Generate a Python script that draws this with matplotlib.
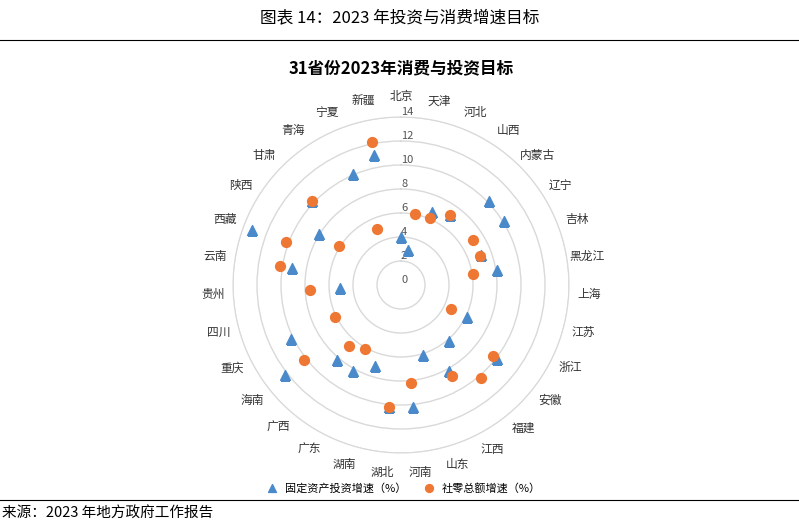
import numpy as np
import matplotlib.pyplot as plt

plt.rcParams['font.family'] = ['Noto Sans CJK SC', 'DejaVu Sans']

provinces = ['北京', '天津', '河北', '山西', '内蒙古', '辽宁', '吉林', '黑龙江', '上海', '江苏',
             '浙江', '安徽', '福建', '江西', '山东', '河南', '湖北', '湖南', '广东', '广西',
             '海南', '重庆', '四川', '贵州', '云南', '西藏', '陕西', '甘肃', '青海', '宁夏', '新疆']
nan = np.nan
invest = [4.0, 3.0, 6.6, 7.1, 10.1, 10.1, 7.1, 8.1, nan, nan,
          6.1, 10.1, 6.1, 8.2, 6.1, 10.2, 10.2, 7.1, 8.2, 8.2,
          12.2, 10.2, nan, 5.1, 9.2, 13.2, 8.1, 10.2, nan, 10.1, 11.1]
consume = [nan, 6.0, 6.1, 7.1, nan, 7.1, 7.0, 6.1, nan, nan,
           4.6, 9.7, 10.2, 8.7, nan, 8.2, 10.2, nan, 6.1, 6.7,
           10.2, 6.1, nan, 7.6, 10.2, 10.2, 6.1, 10.2, nan, 5.1, 12.2]

W, H = 799, 526
fig = plt.figure(figsize=(W / 100, H / 100), dpi=100)

# header and footer
fig.text(0.5, 1 - 18 / H, '图表 14：2023 年投资与消费增速目标', ha='center', va='center', fontsize=12)
fig.add_artist(plt.Line2D([0, 1], [1 - 40 / H, 1 - 40 / H], color='black', lw=0.8))
fig.add_artist(plt.Line2D([0, 1], [1 - 500 / H, 1 - 500 / H], color='black', lw=0.8))
fig.text(0.003, 1 - 513 / H, '来源：2023 年地方政府工作报告', ha='left', va='center', fontsize=10.5)
fig.text(401 / W, 1 - 68 / H, '31省份2023年消费与投资目标', ha='center', va='center',
         fontsize=12, fontweight='bold')

cx, cy, R = 401, 285, 168
ax = fig.add_axes([(cx - R) / W, 1 - (cy + R) / H, 2 * R / W, 2 * R / H], projection='polar')
ax.set_theta_zero_location('N')
ax.set_theta_direction(-1)
theta = np.arange(len(provinces)) * 2 * np.pi / len(provinces)

ax.scatter(theta, invest, marker='^', s=50, color='#4A8ACB', zorder=3, label='固定资产投资增速（%）')
ax.scatter(theta, consume, marker='o', s=50, color='#EE7733', zorder=4, label='社零总额增速（%）')

ax.set_ylim(0, 14)
ax.set_yticks(np.arange(0, 15, 2))
ax.set_yticklabels([str(v) for v in range(0, 15, 2)], fontsize=8, color='#555555')
ax.set_rlabel_position(0)
ax.set_xticks(theta)
ax.set_xticklabels(provinces, fontsize=8.5, color='#333333')
ax.tick_params(axis='x', pad=4)
ax.xaxis.grid(False)
ax.yaxis.grid(True, color='#D9D9D9', lw=1)
ax.spines['polar'].set_color('#D9D9D9')

fig.legend(loc='center', bbox_to_anchor=(401 / W, 1 - 488 / H), ncol=2, frameon=False,
           fontsize=8, handletextpad=0.2, columnspacing=1.0, markerscale=0.8)

fig.savefig('out.png', dpi=100)
